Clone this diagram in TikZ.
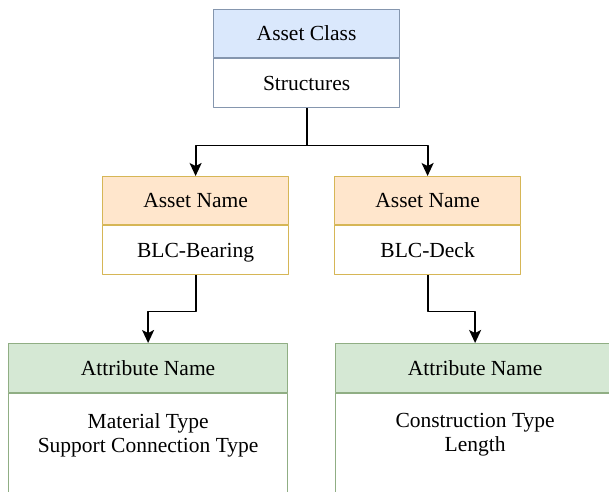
\documentclass[tikz,border=0pt]{standalone}
\usepackage{fontspec}
\setmainfont{Liberation Serif}
\usetikzlibrary{positioning,arrows.meta}
\definecolor{blueFill}{HTML}{DAE8FC}
\definecolor{blueLine}{HTML}{8596AE}
\definecolor{orangeFill}{HTML}{FFE6CC}
\definecolor{orangeLine}{HTML}{D6B656}
\definecolor{greenFill}{HTML}{D5E8D4}
\definecolor{greenLine}{HTML}{90AE84}
\begin{document}
\begin{tikzpicture}[x=1pt, y=-1pt, font=\fontsize{21.5}{24}\selectfont, line join=round,
	>={Stealth[length=13pt, width=12pt, inset=3pt]},
	head/.style={line width=1.2pt, minimum height=48pt, inner sep=0pt, text height=15pt, text depth=1pt, anchor=north west},
	body/.style={line width=1.2pt, fill=white, minimum height=49pt, inner sep=0pt, text height=15pt, text depth=1pt, anchor=north},
	link/.style={->, line width=1.8pt}]
	\useasboundingbox (0,0) rectangle (609,491);
	\clip (0,0) rectangle (609,491);
	\fill[white] (0,0) rectangle (609,491);
	% asset class
	\node[head, fill=blueFill, draw=blueLine, minimum width=186pt] (classHead) at (213,9) {Asset Class};
	\node[body, draw=blueLine, minimum width=186pt] (classBody) at (classHead.south) {Structures};
	% asset names
	\node[head, fill=orangeFill, draw=orangeLine, minimum width=186pt] (bearingHead) at (102,176) {Asset Name};
	\node[body, draw=orangeLine, minimum width=186pt] (bearingBody) at (bearingHead.south) {BLC-Bearing};
	\node[head, fill=orangeFill, draw=orangeLine, minimum width=186pt] (deckHead) at (334,176) {Asset Name};
	\node[body, draw=orangeLine, minimum width=186pt] (deckBody) at (deckHead.south) {BLC-Deck};
	% attribute names
	\node[head, fill=greenFill, draw=greenLine, minimum width=279pt, minimum height=49pt] (bearingAttrHead) at (8,343) {Attribute Name};
	\node[body, draw=greenLine, minimum width=279pt, minimum height=130pt] (bearingAttrBody) at (bearingAttrHead.south) {};
	\node[below=20pt of bearingAttrBody.north, inner sep=0pt, align=center] (bearingAttrList) {Material Type\\Support Connection Type};
	\node[head, fill=greenFill, draw=greenLine, minimum width=279pt, minimum height=49pt] (deckAttrHead) at (335,343) {Attribute Name};
	\node[body, draw=greenLine, minimum width=279pt, minimum height=130pt] (deckAttrBody) at (deckAttrHead.south) {};
	\node[below=20pt of deckAttrBody.north, inner sep=0pt, align=center] (deckAttrList) {Construction Type\\Length};
	% links
	\draw[link] (classBody.south) -- ++(0,37) -| (bearingHead.north);
	\draw[link] (classBody.south) -- ++(0,37) -| (deckHead.north);
	\draw[link] (bearingBody.south) -- ++(0,36) -| (bearingAttrHead.north);
	\draw[link] (deckBody.south) -- ++(0,36) -| (deckAttrHead.north);
\end{tikzpicture}
\end{document}
